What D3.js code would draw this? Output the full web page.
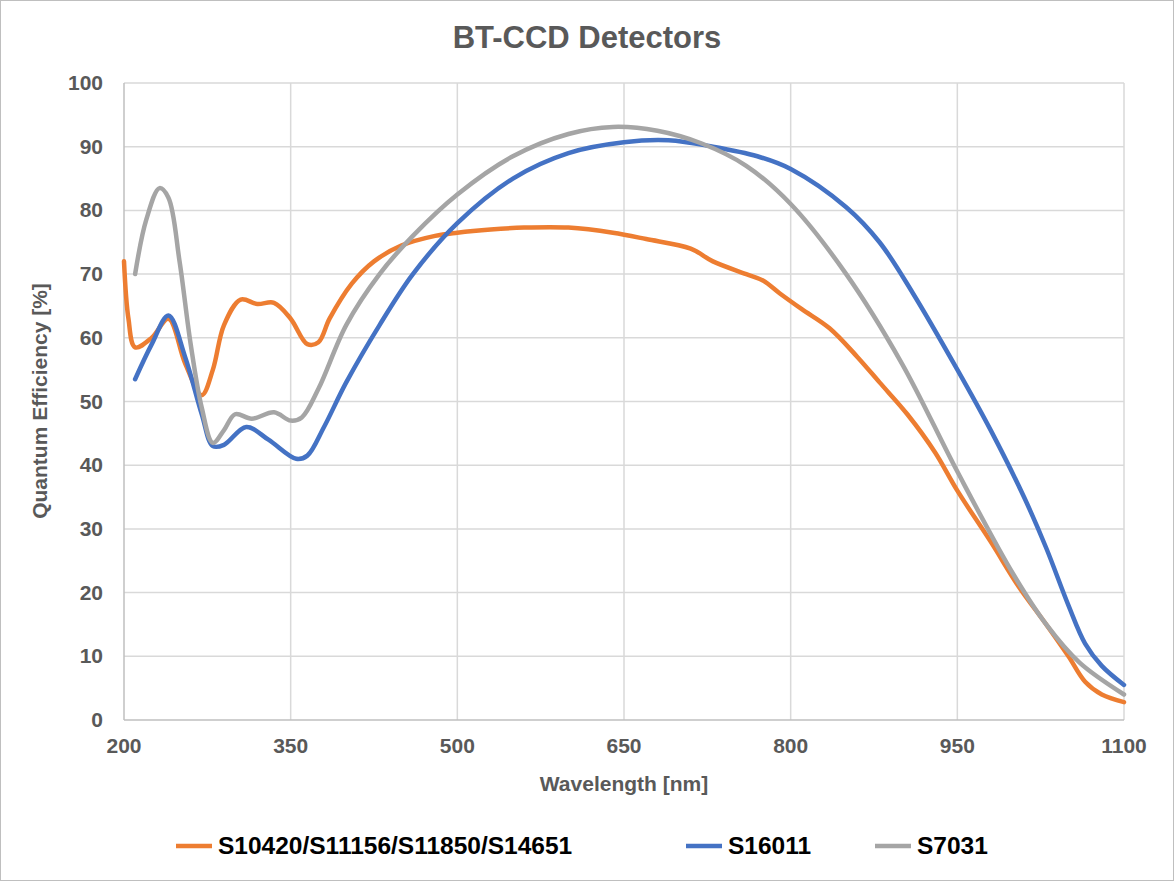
<!DOCTYPE html>
<html><head><meta charset="utf-8">
<script src="https://d3js.org/d3.v7.min.js"></script>
<style>body{margin:0;background:#fff}text{font-family:Arial,"Liberation Sans",sans-serif;font-weight:bold;fill:#595959}</style>
</head><body>
<svg id="chart" width="1174" height="881"></svg>
<script>
// wavelength [nm], QE [%]
let orangeNm = [200,204,210,225,240,255,270,280,290,305,320,335,350,365,375,385,405,425,450,480,500,530,560,600,640,670,710,730,760,775,790,810,835,860,880,905,930,950,980,1005,1030,1050,1065,1080,1100];
let orangeQe = [72,63,58.5,60,63,56,51,55,62,66,65.3,65.5,63,59,59.3,63,68.5,72,74.5,76,76.5,77,77.3,77.3,76.5,75.5,74,72,70,69,67,64.5,61.5,57,53,48,42,36,28,21,15,10,6,4,2.8];
let blueNm = [210,225,240,255,270,280,290,310,330,355,365,380,400,430,460,500,550,600,650,690,730,770,800,850,880,910,950,980,1010,1030,1050,1065,1080,1100];
let blueQe = [53.5,59,63.5,57,48,43,43.2,46,44,41,41.5,46,53,62,70,78,85,89,90.7,91,90,88.5,86.5,80.5,75,67,55,45.5,35,27,18,12,8.5,5.5];
let grayNm = [210,220,232,240,250,260,270,280,290,300,315,335,350,360,375,400,430,460,500,550,600,640,680,720,760,800,850,900,950,1000,1030,1060,1100];
let grayQe = [70,78.5,83.5,82,72,59,49,43.5,45.5,48,47.3,48.3,47,47.5,52,62,70,76,82.5,88.5,92,93.1,92.5,90.5,87,81,70,56,39,23,15,9,4];
let seriesNames = ["S10420/S11156/S11850/S14651","S16011","S7031"];
let colors = ["#ed7d31","#4472c4","#a5a5a5"];
let xTicks = [200,350,500,650,800,950,1100];
let yTicks = d3.range(0,101,10);

let svg = d3.select("#chart");
svg.append("rect").attr("x",0.5).attr("y",0.5).attr("width",1173).attr("height",880)
  .attr("fill","#fff").attr("stroke","#bfbfbf");

let x = d3.scaleLinear().domain([200,1100]).range([124,1124]);
let y = d3.scaleLinear().domain([0,100]).range([720,83]);

svg.append("g").selectAll("line").data(yTicks.slice(1)).enter().append("line")
  .attr("x1",124).attr("x2",1124).attr("y1",d=>y(d)).attr("y2",d=>y(d))
  .attr("stroke","#d9d9d9").attr("stroke-width",1.5);
svg.append("g").selectAll("line").data(xTicks.slice(1)).enter().append("line")
  .attr("y1",83).attr("y2",720).attr("x1",d=>x(d)).attr("x2",d=>x(d))
  .attr("stroke","#d9d9d9").attr("stroke-width",1.5);
svg.append("line").attr("x1",124).attr("x2",1124).attr("y1",720).attr("y2",720).attr("stroke","#bfbfbf").attr("stroke-width",1.5);
svg.append("line").attr("x1",124).attr("x2",124).attr("y1",83).attr("y2",720).attr("stroke","#bfbfbf").attr("stroke-width",1.5);

svg.append("g").selectAll("text").data(yTicks).enter().append("text")
  .attr("x",103).attr("y",d=>y(d)+7).attr("text-anchor","end").attr("font-size",21).text(d=>d);
svg.append("g").selectAll("text").data(xTicks).enter().append("text")
  .attr("x",d=>x(d)).attr("y",753).attr("text-anchor","middle").attr("font-size",21).text(d=>d);

svg.append("text").attr("x",587).attr("y",48).attr("text-anchor","middle").attr("font-size",31).text("BT-CCD Detectors");
svg.append("text").attr("x",624).attr("y",791).attr("text-anchor","middle").attr("font-size",21).text("Wavelength [nm]");
svg.append("text").attr("transform","translate(47,401) rotate(-90)").attr("text-anchor","middle").attr("font-size",21).text("Quantum Efficiency [%]");

let data = [d3.zip(orangeNm,orangeQe), d3.zip(blueNm,blueQe), d3.zip(grayNm,grayQe)];
let line = d3.line().x(d=>x(d[0])).y(d=>y(d[1])).curve(d3.curveCatmullRom);
[0,1,2].forEach(i=>{
  svg.append("path").attr("d",line(data[i])).attr("fill","none")
    .attr("stroke",colors[i]).attr("stroke-width",4.5).attr("stroke-linecap","round");
});

let legX = [176,686,875];
seriesNames.forEach((n,i)=>{
  svg.append("line").attr("x1",legX[i]).attr("x2",legX[i]+36).attr("y1",846).attr("y2",846)
    .attr("stroke",colors[i]).attr("stroke-width",4.5);
  svg.append("text").attr("x",legX[i]+42).attr("y",854).attr("font-size",24.5).style("fill","#000").text(n);
});
</script>
</body></html>
